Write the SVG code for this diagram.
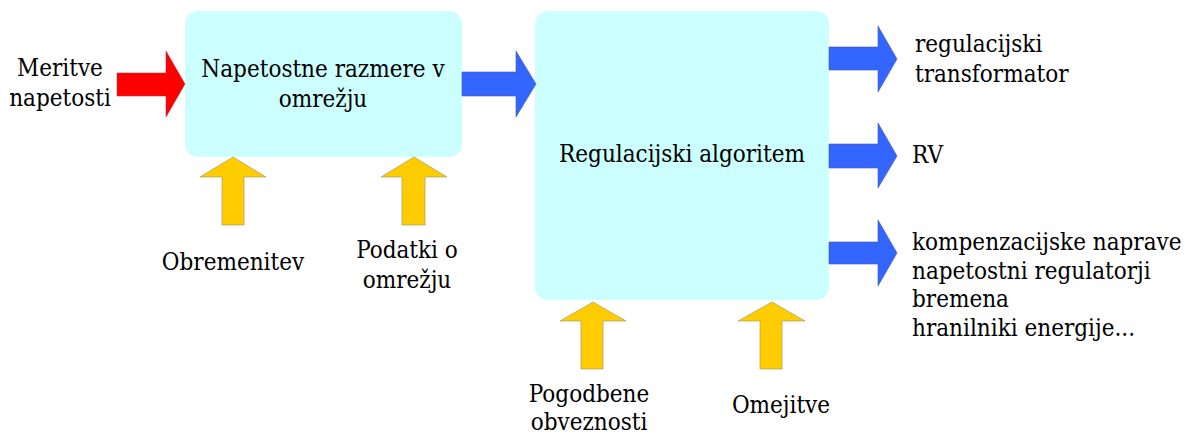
<svg xmlns="http://www.w3.org/2000/svg" width="1185" height="435" viewBox="0 0 1185 435">
<style>
text{font-family:'DejaVu Serif Condensed', 'DejaVu Serif', serif;font-stretch:condensed;font-size:24px;fill:#000}
.c{text-anchor:middle}
.box{fill:#ccffff}
.red{fill:#ff0000;stroke:#b04040;stroke-width:0.6}
.blue{fill:#3366ff;stroke:#4455aa;stroke-width:0.6}
.yel{fill:#ffcc00;stroke:#a09060;stroke-width:0.6}
</style>
<rect width="1185" height="435" fill="#fff"/>
<g id="node-napetostne">
<rect class="box" x="185" y="11" width="277" height="146" rx="13"/>
<text class="c" x="323" y="77">Napetostne razmere v</text>
<text class="c" x="323" y="107">omrežju</text>
</g>
<g id="node-algoritem">
<rect class="box" x="535" y="11" width="294" height="289" rx="13"/>
<text class="c" x="682" y="162">Regulacijski algoritem</text>
</g>
<g id="node-meritve">
<text class="c" x="60" y="76">Meritve</text>
<text class="c" x="60" y="106">napetosti</text>
</g>
<g id="node-obremenitev"><text class="c" x="233" y="270">Obremenitev</text></g>
<g id="node-podatki">
<text class="c" x="407" y="258">Podatki o</text>
<text class="c" x="407" y="288">omrežju</text>
</g>
<g id="node-pogodbene">
<text class="c" x="589" y="402">Pogodbene</text>
<text class="c" x="589" y="430">obveznosti</text>
</g>
<g id="node-omejitve"><text class="c" x="781" y="413">Omejitve</text></g>
<g id="node-transformator">
<text x="915" y="52">regulacijski</text>
<text x="915" y="82">transformator</text>
</g>
<g id="node-rv"><text x="912" y="163">RV</text></g>
<g id="node-naprave">
<text x="912" y="250">kompenzacijske naprave</text>
<text x="912" y="278.5">napetostni regulatorji</text>
<text x="912" y="307">bremena</text>
<text x="912" y="335.5">hranilniki energije...</text>
</g>
<g id="connectors">
<polygon class="red" points="117,73 166,73 166,51 185,84 166,117 166,96 117,96"/>
<polygon class="blue" points="462,72 516,72 516,51 536,84 516,117 516,96 462,96"/>
<polygon class="blue" points="829,47 878,47 878,26 897,59 878,92 878,70 829,70"/>
<polygon class="blue" points="829,144 878,144 878,123 897,156 878,188 878,168 829,168"/>
<polygon class="blue" points="829,242 878,242 878,220 897,253 878,286 878,264 829,264"/>
<polygon class="yel" points="222,225 222,177 200,177 233,157 266,177 244,177 244,225"/>
<polygon class="yel" points="402,225 402,177 381,177 414,157 447,177 425,177 425,225"/>
<polygon class="yel" points="581,369 581,321 560,321 593,302 626,321 603,321 603,369"/>
<polygon class="yel" points="760,369 760,321 738,321 772,302 805,321 782,321 782,369"/>
</g>
</svg>
